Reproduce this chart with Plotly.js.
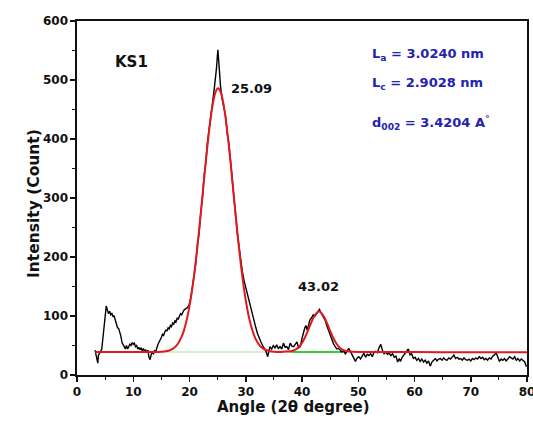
<!DOCTYPE html>
<html>
<head>
<meta charset="utf-8">
<script src="https://cdn.plot.ly/plotly-3.0.1.min.js"></script>
<style>html,body{margin:0;padding:0;background:#fff;}#chart{width:533px;height:430px;}</style>
</head>
<body>
<div id="chart"></div>
<script>
// Measured XRD pattern (black)
const angleMeasured = [3.2,3.4,3.6,3.7,3.8,4.0,4.2,4.4,4.6,4.8,5.0,5.2,5.4,5.6,5.8,6.0,6.2,6.4,6.6,6.8,7.0,7.2,7.4,7.6,7.8,8.0,8.2,8.4,8.6,8.8,9.0,9.2,9.4,9.6,9.8,10.0,10.2,10.4,10.6,10.8,11.0,11.2,11.4,11.6,11.8,12.0,12.2,12.4,12.6,12.8,13.0,13.2,13.4,13.6,13.8,14.0,14.2,14.4,14.6,14.8,15.0,15.2,15.4,15.6,15.8,16.0,16.2,16.4,16.6,16.8,17.0,17.2,17.4,17.6,17.8,18.0,18.2,18.4,18.6,18.8,19.0,19.3,19.6,19.9,20.2,20.5,20.8,21.1,21.4,21.7,22.0,22.3,22.6,22.9,23.2,23.5,23.8,24.1,24.4,24.6,24.8,24.95,25.05,25.15,25.3,25.5,25.8,26.1,26.4,26.7,27.0,27.3,27.6,27.9,28.2,28.5,28.8,29.1,29.4,29.7,30.0,30.3,30.6,30.9,31.2,31.5,31.8,32.1,32.4,32.7,33.0,33.3,33.6,33.9,34.1,34.3,34.6,34.9,35.2,35.5,35.8,36.1,36.4,36.7,37.0,37.3,37.6,37.9,38.2,38.5,38.8,39.1,39.4,39.7,40.0,40.2,40.5,40.7,40.9,41.1,41.4,41.7,42.0,42.3,42.6,42.9,43.1,43.3,43.5,43.8,44.1,44.4,44.7,45.0,45.3,45.6,45.9,46.2,46.5,46.8,47.1,47.4,47.7,48.0,48.3,48.6,48.9,49.2,49.5,49.8,50.1,50.4,50.7,51.0,51.3,51.6,51.9,52.2,52.5,52.8,53.1,53.4,53.7,54.0,54.3,54.6,54.9,55.2,55.5,55.8,56.1,56.4,56.7,57.0,57.3,57.5,57.8,58.1,58.4,58.7,58.9,59.2,59.5,59.8,60.1,60.4,60.7,61.0,61.3,61.6,61.9,62.2,62.5,62.8,63.1,63.4,63.7,64.0,64.3,64.6,64.9,65.2,65.5,65.8,66.1,66.4,66.7,67.0,67.3,67.6,67.9,68.2,68.5,68.8,69.1,69.4,69.7,70.0,70.3,70.6,70.9,71.2,71.5,71.8,72.1,72.4,72.7,73.0,73.3,73.6,73.9,74.2,74.5,74.8,75.1,75.4,75.7,76.0,76.3,76.6,76.9,77.2,77.5,77.8,78.1,78.4,78.7,79.0,79.3,79.6,79.9];
const countMeasured = [42,30,22,20,33,38,40,44,62,88,105,117,110,104,108,102,104,99,100,92,88,80,79,74,66,55,50,48,44,50,44,48,52,50,55,52,54,48,50,44,47,43,46,41,45,40,43,38,42,30,26,35,38,36,41,40,47,52,56,62,64,69,67,73,76,75,80,78,84,82,88,86,92,90,96,95,100,104,102,108,110,112,114,118,130,148,168,188,220,240,275,300,338,360,395,420,448,462,485,500,520,540,551,538,511,491,468,455,440,410,392,362,328,302,272,240,218,195,175,160,148,138,125,115,100,88,80,70,62,56,50,45,40,31,42,48,44,50,46,51,45,48,44,54,47,48,43,54,49,48,52,56,46,48,62,71,80,84,76,82,93,97,102,100,104,108,111,107,104,99,93,84,76,67,59,53,48,44,45,41,39,42,36,40,45,40,34,28,23,29,31,27,33,37,30,35,33,36,31,38,40,38,46,52,42,36,39,35,37,33,36,30,32,22,28,23,30,34,37,42,44,34,36,28,30,25,28,23,27,22,25,20,24,15,22,25,28,24,27,28,25,29,26,25,29,27,31,34,28,30,27,28,25,29,26,25,27,24,28,26,29,27,31,28,30,26,28,25,29,27,32,34,38,30,23,27,25,28,24,27,31,29,27,31,25,28,24,27,25,22,14];

// Fitted profile (red)
const angleFit = [3.2,8,12,14,15,16,16.5,17,17.5,18,18.5,19,19.5,20,20.5,21,21.5,22,22.5,23,23.5,24,24.5,25,25.09,25.5,26,26.5,27,27.5,28,28.5,29,29.5,30,30.5,31,31.5,32,32.5,33,33.5,34,35,36,37,38,39,39.5,40,40.5,41,41.5,42,42.5,43,43.5,44,44.5,45,45.5,46,46.5,47,48,49,50,60,70,80];
const countFit = [39,39,39,39.1,39.5,40.7,42,44.4,48.1,53.9,62.8,75.3,93.1,116.8,146.6,183.4,226,273.4,323,371.8,415.8,451.6,475.7,486,486,481,461.7,429.7,388.3,341,291,242.8,198,159,126.7,100.8,81.2,66.8,56.7,49.9,45.5,42.8,41.1,39.6,39.1,39.7,40.1,43.9,48,54.4,63.1,73.9,85.6,96.4,104,108,104.5,97.1,86.5,74.8,63.9,55,48.4,44.1,40.2,39.2,39,38.8,38.6,38.5];

// Baselines (green)
const angleBase1 = [14.5,38];
const countBase1 = [39,39];
const angleBase2 = [38,47.5];
const countBase2 = [39,39];

// Labels
const peakLabels = ["25.09","43.02"];
const peakLabelX = [31.1,42.9];
const peakLabelY = [485,150];
const paramLabels = ["L<sub>a</sub> = 3.0240 nm","L<sub>c</sub> = 2.9028 nm","d<sub>002</sub> = 3.4204 A<sup>°</sup>"];
const paramLabelY = [543,494,427];

const FONT = "DejaVu Sans, Liberation Sans, Arial, sans-serif";

const traces = [
  {x: angleBase1, y: countBase1, mode: "lines", line: {color: "#a6e3a0", width: 1}, hoverinfo: "skip"},
  {x: angleBase2, y: countBase2, mode: "lines", line: {color: "#3ccc3c", width: 2}, hoverinfo: "skip"},
  {x: angleMeasured, y: countMeasured, mode: "lines", line: {color: "#000000", width: 1.4}},
  {x: angleFit, y: countFit, mode: "lines", line: {color: "#e0191e", width: 2, shape: "spline", smoothing: 0.6}}
];

const annotations = [];
annotations.push({x: 9.6, y: 530, xref: "x", yref: "y", text: "KS1", showarrow: false,
  font: {family: FONT, size: 15, color: "#111", weight: 700}});
peakLabels.forEach((t, i) => annotations.push({x: peakLabelX[i], y: peakLabelY[i], xref: "x", yref: "y",
  text: t, showarrow: false, font: {family: FONT, size: 13, color: "#111", weight: 700}}));
paramLabels.forEach((t, i) => annotations.push({x: 52.0, y: paramLabelY[i], xref: "x", yref: "y",
  xanchor: "left", text: t, showarrow: false, font: {family: FONT, size: 13, color: "#2323b0", weight: 700}}));
annotations.push({x: 0.482, y: -0.121, xref: "paper", yref: "paper", text: "Angle (2θ degree)",
  showarrow: false, font: {family: FONT, size: 15, color: "#111", weight: 700}});
annotations.push({x: -0.12, y: 0.483, xref: "paper", yref: "paper", text: "Intensity (Count)",
  textangle: -90, showarrow: false, font: {family: FONT, size: 15.5, color: "#111", weight: 700}});

const axisCommon = {
  showgrid: false, zeroline: false, showline: true, linecolor: "#111", linewidth: 1.6,
  mirror: true, ticks: "outside", ticklen: 5, tickwidth: 1.5, tickcolor: "#111",
  ticklabeloverflow: "allow",
  tickfont: {family: FONT, size: 12, color: "#111", weight: 700}
};

const layout = {
  width: 533, height: 430,
  margin: {l: 77, r: 6, t: 21, b: 55},
  paper_bgcolor: "#fff", plot_bgcolor: "#fff",
  showlegend: false,
  xaxis: Object.assign({}, axisCommon, {range: [0, 80], dtick: 10, tick0: 0,
    minor: {dtick: 5, ticks: "outside", ticklen: 3, tickwidth: 1.2, tickcolor: "#111"}}),
  yaxis: Object.assign({}, axisCommon, {range: [0, 600], dtick: 100, tick0: 0,
    minor: {dtick: 50, ticks: "outside", ticklen: 3, tickwidth: 1.2, tickcolor: "#111"}}),
  annotations: annotations
};

Plotly.newPlot("chart", traces, layout, {staticPlot: true, displayModeBar: false});
</script>
</body>
</html>
